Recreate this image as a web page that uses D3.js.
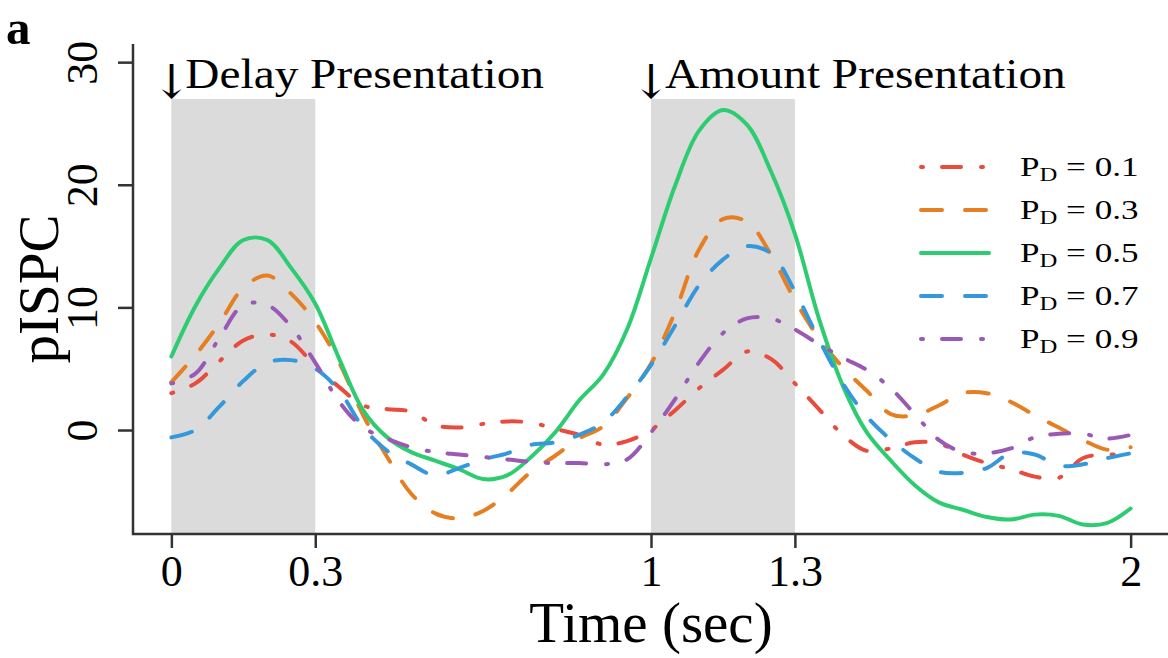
<!DOCTYPE html>
<html>
<head>
<meta charset="utf-8">
<script src="https://cdn.jsdelivr.net/npm/d3@7"></script>
<style>
  body { margin: 0; background: #fff; }
  svg text { font-family: "Liberation Serif", "Times New Roman", serif; fill: #000; }
</style>
</head>
<body>
<div id="chart"></div>
<script>
// time axis (sec), one sample every 50 ms
const times = [0, 0.05, 0.1, 0.15, 0.2, 0.25, 0.3, 0.35, 0.4, 0.45, 0.5, 0.55, 0.6, 0.65, 0.7, 0.75, 0.8, 0.85, 0.9, 0.95,
  1, 1.05, 1.1, 1.15, 1.2, 1.25, 1.3, 1.35, 1.4, 1.45, 1.5, 1.55, 1.6, 1.65, 1.7, 1.75, 1.8, 1.85, 1.9, 1.95, 2];

// pISPC per P_D
const pd01 = [3.0, 3.8, 5.6, 7.3, 7.8, 7.2, 5.2, 3.5, 2.0, 1.7, 1.5, 0.4, 0.2, 0.5, 0.7, 0.6, 0.1, -0.4, -1.2, -0.9,
  0.0, 1.6, 3.4, 4.9, 6.4, 5.8, 3.8, 1.7, -0.4, -1.7, -1.5, -1.0, -1.1, -2.0, -2.7, -3.2, -3.8, -3.9, -2.3, -2.0, -2.1];
const pd03 = [3.9, 6.1, 8.7, 11.6, 12.6, 11.1, 8.8, 5.5, 1.2, -2.2, -5.2, -6.8, -7.2, -6.6, -5.2, -3.4, -2.1, -0.7, 0.3, 2.6,
  5.4, 9.6, 14.7, 17.2, 17.0, 14.3, 10.6, 7.5, 5.1, 3.2, 1.3, 1.2, 2.0, 3.0, 3.0, 2.3, 1.2, 0.2, -0.8, -1.6, -1.4];
const pd05 = [6.0, 10.1, 13.2, 15.5, 15.5, 13.2, 10.3, 5.8, 1.6, -0.6, -1.8, -2.5, -3.2, -4.0, -3.7, -2.2, -0.2, 2.4, 4.5, 8.2,
  14.0, 19.9, 24.4, 26.1, 24.9, 21.1, 16.0, 9.1, 3.6, -0.2, -2.5, -4.5, -5.9, -6.5, -7.1, -7.3, -6.9, -7.0, -7.7, -7.6, -6.4];
const pd07 = [-0.6, 0.0, 1.9, 4.0, 5.5, 5.7, 5.0, 3.2, 0.2, -1.7, -2.8, -3.7, -3.1, -2.4, -1.9, -1.2, -1.0, -0.4, 0.6, 2.7,
  5.3, 8.5, 11.8, 13.9, 15.0, 14.4, 11.3, 7.4, 3.8, 1.1, -0.8, -2.3, -3.4, -3.5, -3.1, -1.9, -2.0, -2.9, -2.8, -2.3, -1.9];
const pd09 = [3.8, 4.6, 7.5, 10.2, 10.2, 8.4, 5.5, 2.3, 0.2, -0.7, -1.4, -1.8, -2.0, -2.2, -2.4, -2.6, -2.7, -2.7, -2.8, -2.4,
  -0.2, 2.5, 5.5, 7.9, 9.1, 9.1, 8.2, 7.0, 5.9, 4.9, 3.4, 1.3, -0.8, -1.8, -1.9, -1.5, -0.6, -0.3, -0.3, -0.7, -0.4];

const seriesLabels = ["0.1", "0.3", "0.5", "0.7", "0.9"];
const seriesValues = [pd01, pd03, pd05, pd07, pd09];
const seriesColors = ["#e74c3c", "#e67e22", "#2ecc71", "#3498db", "#9b59b6"];
const seriesDash = ["2,19,19,20", "21,23", null, "21,23", "2,19,19,20"];

const xTicks = [0, 0.3, 1, 1.3, 2];
const yTicks = [0, 10, 20, 30];
const windows = [
  {start: 0, end: 0.3, label: "Delay Presentation"},
  {start: 1, end: 1.3, label: "Amount Presentation"}
];
const windowTop = 27;

const W = 1168, H = 658;

// plot region (R style, 4% padding around the data limits)
const x = d3.scaleLinear().domain([-0.08, 2.08]).range([133, 1169]);
const y = d3.scaleLinear().domain([-8.48, 31.48]).range([534, 44]);

const svg = d3.select("#chart").append("svg")
  .attr("width", W)
  .attr("height", H);

// grey stimulus windows
svg.selectAll("rect.win")
  .data(windows)
  .join("rect")
  .attr("class", "win")
  .attr("x", d => x(d.start))
  .attr("width", d => x(d.end) - x(d.start))
  .attr("y", y(windowTop))
  .attr("height", y(-8.48) - y(windowTop))
  .attr("fill", "#dbdbdb");

// "↓Label" above each window, arrow centred on the onset
windows.forEach(w => {
  const t = svg.append("text").attr("y", 88);
  const arrow = t.append("tspan")
    .attr("dy", 10)
    .style("font-family", "'DejaVu Serif', serif")
    .style("font-size", "47px")
    .text("↓");
  const aw = arrow.node().getComputedTextLength();
  arrow.attr("x", x(w.start) - aw / 2);
  const lab = t.append("tspan")
    .attr("x", x(w.start) + 14)
    .attr("dy", -10)
    .style("font-size", "43px")
    .text(w.label);
  const lw = lab.node().getComputedTextLength();
  lab.attr("textLength", lw * 1.1).attr("lengthAdjust", "spacingAndGlyphs");
});

// lines
const line = d3.line()
  .x((d, i) => x(times[i]))
  .y(d => y(d))
  .curve(d3.curveCatmullRom.alpha(0.5));

seriesValues.forEach((vals, k) => {
  svg.append("path")
    .datum(vals)
    .attr("fill", "none")
    .attr("stroke", seriesColors[k])
    .attr("stroke-width", 4)
    .attr("stroke-linecap", "round")
    .attr("stroke-linejoin", "round")
    .attr("stroke-dasharray", seriesDash[k])
    .attr("d", line);
});

// L-shaped box
svg.append("path")
  .attr("d", `M${x(-0.08)},${y(31.48)}V${y(-8.48)}H${x(2.08)}`)
  .attr("fill", "none")
  .attr("stroke", "#333")
  .attr("stroke-width", 2.5);

// x axis
const xAxis = svg.append("g")
  .attr("transform", `translate(0,${y(-8.48)})`)
  .call(d3.axisBottom(x).tickValues(xTicks).tickSize(14).tickFormat(d3.format("")));
xAxis.select(".domain").remove();
xAxis.selectAll("line").attr("stroke", "#333").attr("stroke-width", 2.5);
xAxis.selectAll("text")
  .attr("y", 52)
  .attr("dy", null)
  .style("font-size", "44px")
  .style("font-family", "'Liberation Serif', 'Times New Roman', serif");

// y axis, labels turned like R's default
const yAxis = svg.append("g")
  .attr("transform", `translate(${x(-0.08)},0)`)
  .call(d3.axisLeft(y).tickValues(yTicks).tickSize(15));
yAxis.select(".domain").remove();
yAxis.selectAll("line").attr("stroke", "#333").attr("stroke-width", 2.5);
yAxis.selectAll("text")
  .attr("x", null)
  .attr("dy", null)
  .attr("transform", "translate(-36,0) rotate(-90)")
  .attr("text-anchor", "middle")
  .style("font-size", "44px")
  .style("font-family", "'Liberation Serif', 'Times New Roman', serif");

// axis titles
svg.append("text")
  .attr("x", x(1))
  .attr("y", 642)
  .attr("text-anchor", "middle")
  .style("font-size", "57px")
  .text("Time (sec)");

svg.append("text")
  .attr("transform", `translate(58,${y(11.5)}) rotate(-90)`)
  .attr("text-anchor", "middle")
  .style("font-size", "57px")
  .text("pISPC");

// panel letter
svg.append("text")
  .attr("x", 6)
  .attr("y", 44)
  .style("font-size", "49px")
  .style("font-weight", "bold")
  .text("a");

// legend
const legend = svg.append("g");
seriesLabels.forEach((lab, k) => {
  const ly = 167 + k * 43;
  legend.append("line")
    .attr("x1", 921).attr("x2", 989)
    .attr("y1", ly).attr("y2", ly)
    .attr("stroke", seriesColors[k])
    .attr("stroke-width", 4)
    .attr("stroke-linecap", "round")
    .attr("stroke-dasharray", seriesDash[k]);
  const t = legend.append("text")
    .attr("transform", `translate(1020,${ly + 9}) scale(1.3,1)`)
    .style("font-size", "27px");
  t.append("tspan").text("P");
  t.append("tspan").attr("dy", 5).style("font-size", "19px").text("D");
  t.append("tspan").attr("dy", -5).text(" = " + lab);
});
</script>
</body>
</html>
